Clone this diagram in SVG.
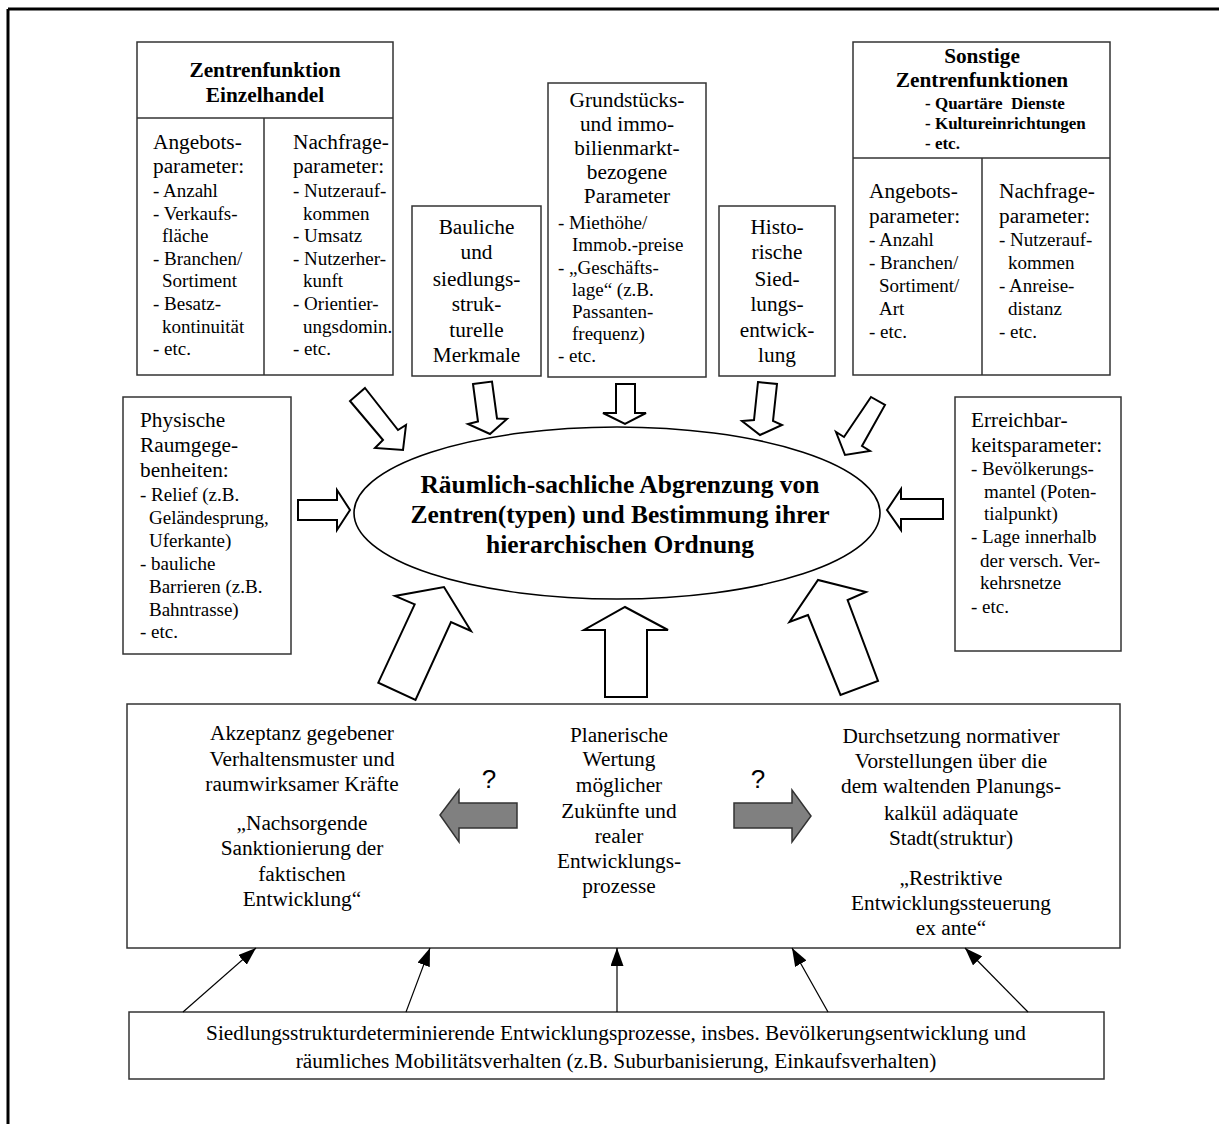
<svg xmlns="http://www.w3.org/2000/svg" width="1219" height="1124" viewBox="0 0 1219 1124">
<style>
.bg{fill:#fff}
.box{fill:#fff;stroke:#333;stroke-width:1.5}
.ln{stroke:#333;stroke-width:1.5;fill:none}
text{font-family:"Liberation Serif","Times New Roman",serif;font-size:21.3px;fill:#000}
.s{font-size:19px}
.b{font-weight:bold}
.c{text-anchor:middle}
.q{font-family:"Liberation Sans",Arial,sans-serif;font-size:26px}
.ha{fill:#fff;stroke:#000;stroke-width:2;stroke-linejoin:miter}
.ga{fill:#808080;stroke:#333;stroke-width:1.5}
.th{stroke:#000;stroke-width:1.2;fill:none}
</style>
<defs>
<marker id="ah" viewBox="0 0 18 13" refX="18" refY="6.5" markerWidth="18" markerHeight="13" markerUnits="userSpaceOnUse" orient="auto">
<path d="M0,0 L18,6.5 L0,13 Z" fill="#000"/>
</marker>
</defs>
<rect class="bg" x="0" y="0" width="1219" height="1124"/>
<g id="frame">
<line x1="8" y1="9" x2="1219" y2="9" stroke="#000" stroke-width="3"/>
<line x1="8" y1="9" x2="8" y2="1124" stroke="#000" stroke-width="3"/>
</g>

<g id="n-einzelhandel">
<rect class="box" x="137" y="42" width="256" height="333"/>
<line class="ln" x1="137" y1="118" x2="393" y2="118"/>
<line class="ln" x1="264" y1="118" x2="264" y2="375"/>
<text class="b c" x="265" y="77">Zentrenfunktion</text>
<text class="b c" x="265" y="102">Einzelhandel</text>
<text x="153" y="149">Angebots-</text>
<text x="153" y="173">parameter:</text>
<text class="s"><tspan x="153" y="197">- Anzahl</tspan><tspan x="153" y="220">- Verkaufs-</tspan><tspan x="162" y="242">fläche</tspan><tspan x="153" y="265">- Branchen/</tspan><tspan x="162" y="287">Sortiment</tspan><tspan x="153" y="310">- Besatz-</tspan><tspan x="162" y="333">kontinuität</tspan><tspan x="153" y="355">- etc.</tspan></text>
<text x="293" y="149">Nachfrage-</text>
<text x="293" y="173">parameter:</text>
<text class="s"><tspan x="293" y="197">- Nutzerauf-</tspan><tspan x="303" y="220">kommen</tspan><tspan x="293" y="242">- Umsatz</tspan><tspan x="293" y="265">- Nutzerher-</tspan><tspan x="303" y="287">kunft</tspan><tspan x="293" y="310">- Orientier-</tspan><tspan x="303" y="333">ungsdomin.</tspan><tspan x="293" y="355">- etc.</tspan></text>
</g>

<g id="n-bauliche">
<rect class="box" x="412" y="206" width="129" height="170"/>
<text class="c"><tspan x="476.5" y="234">Bauliche</tspan><tspan x="476.5" y="259">und</tspan><tspan x="476.5" y="286">siedlungs-</tspan><tspan x="476.5" y="311">struk-</tspan><tspan x="476.5" y="337">turelle</tspan><tspan x="476.5" y="362">Merkmale</tspan></text>
</g>

<g id="n-grundstueck">
<rect class="box" x="548" y="83" width="158" height="294"/>
<text class="c"><tspan x="627" y="107">Grundstücks-</tspan><tspan x="627" y="131">und immo-</tspan><tspan x="627" y="155">bilienmarkt-</tspan><tspan x="627" y="179">bezogene</tspan><tspan x="627" y="203">Parameter</tspan></text>
<text class="s"><tspan x="558" y="229">- Miethöhe/</tspan><tspan x="572" y="251">Immob.-preise</tspan><tspan x="558" y="273.5">- „Geschäfts-</tspan><tspan x="572" y="296">lage“ (z.B.</tspan><tspan x="572" y="318">Passanten-</tspan><tspan x="572" y="340">frequenz)</tspan><tspan x="558" y="362">- etc.</tspan></text>
</g>

<g id="n-historisch">
<rect class="box" x="719" y="206" width="116" height="170"/>
<text class="c"><tspan x="777" y="234">Histo-</tspan><tspan x="777" y="259">rische</tspan><tspan x="777" y="286">Sied-</tspan><tspan x="777" y="311">lungs-</tspan><tspan x="777" y="337">entwick-</tspan><tspan x="777" y="362">lung</tspan></text>
</g>

<g id="n-sonstige">
<rect class="box" x="853" y="42" width="257" height="333"/>
<line class="ln" x1="853" y1="158" x2="1110" y2="158"/>
<line class="ln" x1="982" y1="158" x2="982" y2="375"/>
<text class="b c" x="982" y="63">Sonstige</text>
<text class="b c" x="982" y="87">Zentrenfunktionen</text>
<text class="b" style="font-size:17px;white-space:pre"><tspan x="925" y="109">- Quartäre  Dienste</tspan><tspan x="925" y="129">- Kultureinrichtungen</tspan><tspan x="925" y="149">- etc.</tspan></text>
<text x="869" y="198">Angebots-</text>
<text x="869" y="223">parameter:</text>
<text class="s"><tspan x="869" y="246">- Anzahl</tspan><tspan x="869" y="269">- Branchen/</tspan><tspan x="879" y="292">Sortiment/</tspan><tspan x="879" y="315">Art</tspan><tspan x="869" y="338">- etc.</tspan></text>
<text x="999" y="198">Nachfrage-</text>
<text x="999" y="223">parameter:</text>
<text class="s"><tspan x="999" y="246">- Nutzerauf-</tspan><tspan x="1008" y="269">kommen</tspan><tspan x="999" y="292">- Anreise-</tspan><tspan x="1008" y="315">distanz</tspan><tspan x="999" y="338">- etc.</tspan></text>
</g>

<g id="n-physisch">
<rect class="box" x="123" y="397" width="168" height="257"/>
<text><tspan x="140" y="427">Physische</tspan><tspan x="140" y="452">Raumgege-</tspan><tspan x="140" y="477">benheiten:</tspan></text>
<text class="s"><tspan x="140" y="501">- Relief (z.B.</tspan><tspan x="149" y="524">Geländesprung,</tspan><tspan x="149" y="547">Uferkante)</tspan><tspan x="140" y="570">- bauliche</tspan><tspan x="149" y="593">Barrieren (z.B.</tspan><tspan x="149" y="616">Bahntrasse)</tspan><tspan x="140" y="638">- etc.</tspan></text>
</g>

<g id="n-erreichbarkeit">
<rect class="box" x="955" y="397" width="166" height="254"/>
<text><tspan x="971" y="427">Erreichbar-</tspan><tspan x="971" y="452">keitsparameter:</tspan></text>
<text class="s"><tspan x="971" y="475">- Bevölkerungs-</tspan><tspan x="984" y="498">mantel (Poten-</tspan><tspan x="984" y="520">tialpunkt)</tspan><tspan x="971" y="543">- Lage innerhalb</tspan><tspan x="980" y="567">der versch. Ver-</tspan><tspan x="980" y="589">kehrsnetze</tspan><tspan x="971" y="613">- etc.</tspan></text>
</g>

<g id="n-abgrenzung">
<ellipse cx="617" cy="513" rx="263" ry="86" fill="#fff" stroke="#000" stroke-width="1.6"/>
<text class="b c" style="font-size:25.5px"><tspan x="620" y="493">Räumlich-sachliche Abgrenzung von</tspan><tspan x="620" y="523">Zentren(typen) und Bestimmung ihrer</tspan><tspan x="620" y="553">hierarchischen Ordnung</tspan></text>
</g>

<g id="n-planung">
<rect class="box" x="127" y="704" width="993" height="244"/>
<text class="c"><tspan x="302" y="740">Akzeptanz gegebener</tspan><tspan x="302" y="766">Verhaltensmuster und</tspan><tspan x="302" y="791">raumwirksamer Kräfte</tspan><tspan x="302" y="830">„Nachsorgende</tspan><tspan x="302" y="855">Sanktionierung der</tspan><tspan x="302" y="881">faktischen</tspan><tspan x="302" y="906">Entwicklung“</tspan></text>
<text class="c"><tspan x="619" y="742">Planerische</tspan><tspan x="619" y="766">Wertung</tspan><tspan x="619" y="792">möglicher</tspan><tspan x="619" y="818">Zukünfte und</tspan><tspan x="619" y="843">realer</tspan><tspan x="619" y="868">Entwicklungs-</tspan><tspan x="619" y="893">prozesse</tspan></text>
<text class="c"><tspan x="951" y="743">Durchsetzung normativer</tspan><tspan x="951" y="768">Vorstellungen über die</tspan><tspan x="951" y="793">dem waltenden Planungs-</tspan><tspan x="951" y="820">kalkül adäquate</tspan><tspan x="951" y="845">Stadt(struktur)</tspan><tspan x="951" y="885">„Restriktive</tspan><tspan x="951" y="910">Entwicklungssteuerung</tspan><tspan x="951" y="935">ex ante“</tspan></text>
<text class="q c" x="489" y="788">?</text>
<text class="q c" x="758" y="788">?</text>
</g>

<g id="n-prozesse">
<rect class="box" x="129" y="1012" width="975" height="67"/>
<text class="c"><tspan x="616" y="1040">Siedlungsstrukturdeterminierende Entwicklungsprozesse, insbes. Bevölkerungsentwicklung und</tspan><tspan x="616" y="1068">räumliches Mobilitätsverhalten (z.B. Suburbanisierung, Einkaufsverhalten)</tspan></text>
</g>

<g id="connectors">
<polygon class="ha" points="365,388 398,430 406,425 403,450 375,448 383,440 350,401"/>
<polygon class="ha" points="473,384 492,381.5 497,418.5 507,419 490,434 468,424 478,421.5"/>
<polygon class="ha" points="616,384 635,384 635,413 646,413 625,424 603,413 616,413"/>
<polygon class="ha" points="758,382 777,384 773,421 782,425 760,435 742,421 754,420"/>
<polygon class="ha" points="871,397 885,405 862,446 870,451 845,455 836,432 844,437"/>
<polygon class="ha" points="298,500 337,500 337,490 350,510 337,530 337,520 298,520"/>
<polygon class="ha" points="943,499 901,499 901,489 887,510 901,530 901,519 943,519"/>
<polygon class="ha" points="414.7,604.3 395,596 444,587 471,631 451,622 415.5,700 378.3,682.7"/>
<polygon class="ha" points="605,697 605,630 584,630 625,607 668,630 647,630 647,697"/>
<polygon class="ha" points="808,615 789.5,622 818,580 866,592 847.6,600 878,681 840.5,695"/>
<polygon class="ga" points="517,803 459,803 459,790 440,815 459,842 459,828 517,828"/>
<polygon class="ga" points="734,803 792,803 792,790 811,816 792,842 792,828 734,828"/>
<line class="th" x1="183" y1="1012" x2="256" y2="948" marker-end="url(#ah)"/>
<line class="th" x1="406" y1="1012" x2="430" y2="948" marker-end="url(#ah)"/>
<line class="th" x1="617" y1="1012" x2="617" y2="948" marker-end="url(#ah)"/>
<line class="th" x1="828" y1="1012" x2="792" y2="948" marker-end="url(#ah)"/>
<line class="th" x1="1028" y1="1012" x2="965" y2="948" marker-end="url(#ah)"/>
</g>
</svg>
